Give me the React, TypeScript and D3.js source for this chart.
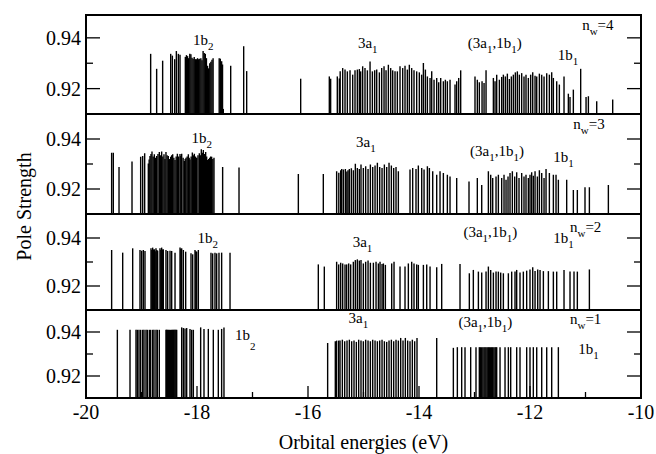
import React from 'react';
import * as d3 from 'd3';

// ---- data (energy in eV, pole strength) ----
const xMajorTicks = [-20, -18, -16, -14, -12, -10];
const xMinorTicks = [-19, -17, -15, -13, -11];
const yMajorTicks = [0.92, 0.94];
const yMinorTicks = [0.93];

const bandsNw4: [number, number][] = [
  [-18.835,0.9337],[-18.727,0.9278],[-18.619,0.9310],[-18.474,0.9337],[-18.444,0.9330],[-18.402,0.9316],[-18.372,0.9348],[-18.336,0.9337],[-18.306,0.9333],
  [-18.210,0.9325],[-18.190,0.9332],[-18.170,0.9328],[-18.150,0.9320],[-18.130,0.9337],[-18.110,0.9335],[-18.090,0.9322],[-18.070,0.9318],[-18.050,0.9325],[-18.030,0.9316],[-18.010,0.9316],[-17.990,0.9320],[-17.970,0.9316],[-17.950,0.9318],[-17.930,0.9320],[-17.910,0.9312],[-17.890,0.9348],[-17.870,0.9340],[-17.850,0.9337],[-17.830,0.9320],[-17.810,0.9290],[-17.790,0.9280],[-17.770,0.9300],[-17.750,0.9306],[-17.730,0.9314],[-17.710,0.9320],
  [-17.600,0.9320],[-17.580,0.9318],[-17.556,0.9308],[-17.540,0.9295],[-17.526,0.9120],[-17.393,0.9290],[-17.159,0.9367],[-17.105,0.9269],[-16.132,0.9239],
  [-15.616,0.9248],[-15.592,0.9239],[-15.472,0.9248],[-15.435,0.9240],
  [-15.420,0.9268],[-15.375,0.9281],[-15.333,0.9275],[-15.291,0.9268],[-15.243,0.9272],[-15.195,0.9255],[-15.153,0.9272],[-15.111,0.9275],[-15.075,0.9277],[-15.051,0.9268],[-15.015,0.9288],[-14.973,0.9281],[-14.930,0.9272],[-14.882,0.9307],[-14.840,0.9268],[-14.798,0.9272],[-14.762,0.9275],[-14.714,0.9264],[-14.672,0.9281],[-14.630,0.9288],[-14.594,0.9272],[-14.552,0.9294],[-14.510,0.9281],[-14.474,0.9272],[-14.432,0.9268],[-14.390,0.9268],[-14.342,0.9288],[-14.294,0.9281],[-14.252,0.9290],[-14.210,0.9275],[-14.174,0.9294],[-14.132,0.9281],[-14.090,0.9272],[-14.042,0.9268],[-13.994,0.9264],[-13.952,0.9255],
  [-13.921,0.9301],[-13.885,0.9275],[-13.849,0.9248],[-13.801,0.9242],[-13.771,0.9268],[-13.729,0.9235],[-13.681,0.9242],[-13.645,0.9225],[-13.609,0.9242],[-13.561,0.9229],[-13.525,0.9235],[-13.489,0.9229],[-13.441,0.9235],[-13.351,0.9216],[-13.321,0.9229],[-13.285,0.9242],[-13.249,0.9272],
  [-12.991,0.9248],[-12.949,0.9235],[-12.913,0.9225],[-12.864,0.9229],[-12.828,0.9222],[-12.792,0.9272],
  [-12.660,0.9242],[-12.630,0.9229],[-12.600,0.9255],[-12.552,0.9235],[-12.510,0.9246],[-12.480,0.9255],[-12.444,0.9248],[-12.408,0.9259],[-12.372,0.9238],[-12.336,0.9248],[-12.300,0.9255],[-12.264,0.9264],[-12.228,0.9268],[-12.192,0.9255],[-12.150,0.9261],[-12.108,0.9248],[-12.072,0.9255],[-12.030,0.9242],[-11.988,0.9255],[-11.951,0.9264],[-11.909,0.9251],[-11.879,0.9248],[-11.831,0.9259],[-11.789,0.9255],[-11.747,0.9248],[-11.699,0.9261],[-11.651,0.9255],[-11.609,0.9264],[-11.579,0.9242],
  [-11.519,0.9229],[-11.471,0.9216],[-11.387,0.9248],[-11.309,0.9180],[-11.279,0.9167],[-11.219,0.9196],[-11.087,0.9278],[-10.990,0.9167],[-10.948,0.9170],[-10.798,0.9150],[-10.510,0.9157],
];

const bandsNw3: [number, number][] = [
  [-19.538,0.9345],[-19.508,0.9345],[-19.405,0.9288],[-19.171,0.9310],[-19.015,0.9329],[-18.979,0.9332],[-18.943,0.9343],
  [-18.877,0.9302],[-18.862,0.9318],[-18.847,0.9332],[-18.829,0.9340],[-18.811,0.9350],[-18.790,0.9330],[-18.769,0.9339],[-18.748,0.9325],[-18.727,0.9332],[-18.703,0.9340],[-18.679,0.9348],[-18.658,0.9335],[-18.637,0.9350],[-18.616,0.9330],[-18.595,0.9339],[-18.577,0.9320],[-18.559,0.9348],[-18.538,0.9335],[-18.517,0.9332],[-18.495,0.9320],[-18.474,0.9329],[-18.456,0.9335],[-18.438,0.9339],[-18.417,0.9325],[-18.396,0.9316],[-18.375,0.9330],[-18.354,0.9341],[-18.330,0.9330],[-18.306,0.9340],[-18.291,0.9332],[-18.276,0.9341],[-18.250,0.9325],[-18.228,0.9312],[-18.213,0.9320],[-18.198,0.9325],[-18.177,0.9330],[-18.156,0.9339],[-18.141,0.9325],[-18.126,0.9318],[-18.105,0.9330],[-18.084,0.9346],[-18.066,0.9335],[-18.048,0.9341],[-18.027,0.9330],[-18.006,0.9325],[-17.982,0.9335],[-17.958,0.9343],[-17.940,0.9335],[-17.922,0.9359],[-17.904,0.9345],[-17.886,0.9356],[-17.865,0.9340],[-17.844,0.9348],[-17.826,0.9330],[-17.808,0.9316],[-17.790,0.9320],[-17.772,0.9325],[-17.754,0.9330],[-17.736,0.9329],[-17.715,0.9320],[-17.694,0.9325],
  [-17.538,0.9288],[-17.243,0.9286],[-16.174,0.9260],[-15.724,0.9260],
  [-15.484,0.9271],[-15.445,0.9265],[-15.411,0.9275],[-15.393,0.9280],[-15.363,0.9278],[-15.327,0.9280],[-15.300,0.9270],[-15.279,0.9275],[-15.255,0.9280],[-15.219,0.9283],[-15.183,0.9275],[-15.147,0.9301],[-15.111,0.9284],[-15.075,0.9280],
  [-15.045,0.9298],[-15.003,0.9284],[-14.961,0.9291],[-14.918,0.9280],[-14.876,0.9298],[-14.834,0.9288],[-14.792,0.9294],[-14.750,0.9305],[-14.708,0.9288],[-14.666,0.9284],[-14.624,0.9298],[-14.582,0.9288],[-14.540,0.9305],[-14.498,0.9294],[-14.456,0.9284],[-14.414,0.9288],[-14.372,0.9271],
  [-14.162,0.9278],[-14.114,0.9284],[-14.054,0.9280],[-14.012,0.9294],[-13.951,0.9284],[-13.909,0.9278],[-13.849,0.9291],[-13.813,0.9284],[-13.753,0.9271],[-13.681,0.9257],[-13.621,0.9271],[-13.561,0.9264],[-13.489,0.9257],[-13.441,0.9250],[-13.321,0.9244],
  [-13.099,0.9230],[-12.949,0.9244],[-12.870,0.9216],
  [-12.750,0.9271],[-12.708,0.9257],[-12.672,0.9244],[-12.612,0.9250],[-12.570,0.9257],[-12.510,0.9244],[-12.468,0.9257],[-12.432,0.9237],[-12.396,0.9250],[-12.360,0.9264],[-12.318,0.9271],[-12.276,0.9250],[-12.240,0.9267],[-12.198,0.9244],[-12.150,0.9264],[-12.108,0.9250],[-12.072,0.9257],[-12.030,0.9244],[-12.000,0.9257],[-11.970,0.9267],[-11.940,0.9253],[-11.909,0.9271],[-11.867,0.9250],[-11.831,0.9275],
  [-11.789,0.9264],[-11.747,0.9244],[-11.711,0.9280],[-11.651,0.9264],[-11.579,0.9257],[-11.531,0.9257],[-11.489,0.9237],
  [-11.339,0.9237],[-11.219,0.9196],[-11.147,0.9196],[-11.009,0.9207],[-10.930,0.9207],[-10.588,0.9216],
];

const bandsNw2: [number, number][] = [
  [-19.538,0.9350],[-19.339,0.9339],[-19.159,0.9357],
  [-19.027,0.9350],[-18.997,0.9347],[-18.967,0.9350],[-18.937,0.9346],
  [-18.829,0.9357],[-18.814,0.9350],[-18.799,0.9360],[-18.784,0.9352],[-18.769,0.9353],[-18.754,0.9345],[-18.739,0.9357],[-18.724,0.9350],[-18.709,0.9347],[-18.667,0.9357],[-18.652,0.9350],[-18.637,0.9360],[-18.622,0.9352],[-18.607,0.9353],[-18.559,0.9350],[-18.529,0.9346],[-18.486,0.9347],[-18.456,0.9346],[-18.396,0.9339],
  [-18.306,0.9360],[-18.291,0.9355],[-18.276,0.9357],[-18.246,0.9350],[-18.204,0.9343],
  [-18.108,0.9336],[-18.078,0.9332],[-18.036,0.9350],[-18.021,0.9345],[-18.006,0.9343],[-17.976,0.9350],
  [-17.748,0.9339],[-17.718,0.9336],[-17.676,0.9339],[-17.646,0.9336],[-17.604,0.9339],[-17.556,0.9339],
  [-17.405,0.9339],
  [-15.814,0.9290],[-15.706,0.9281],
  [-15.484,0.9301],[-15.447,0.9290],[-15.411,0.9297],[-15.375,0.9294],[-15.333,0.9290],[-15.303,0.9290],[-15.267,0.9294],[-15.231,0.9290],[-15.183,0.9301],[-15.147,0.9308],[-15.111,0.9311],[-15.075,0.9306],
  [-15.045,0.9308],[-15.003,0.9294],[-14.961,0.9301],[-14.918,0.9306],[-14.876,0.9297],[-14.822,0.9297],[-14.774,0.9301],[-14.732,0.9294],[-14.702,0.9301],[-14.666,0.9292],[-14.642,0.9294],[-14.606,0.9288],
  [-14.492,0.9294],[-14.450,0.9301],[-14.342,0.9281],[-14.252,0.9281],[-14.192,0.9294],[-14.132,0.9301],[-14.090,0.9294],[-14.042,0.9290],[-14.012,0.9288],[-13.921,0.9288],[-13.861,0.9290],[-13.801,0.9281],[-13.681,0.9278],[-13.591,0.9292],
  [-13.261,0.9292],[-13.093,0.9253],[-13.021,0.9267],[-12.930,0.9260],[-12.870,0.9256],
  [-12.792,0.9260],[-12.750,0.9281],[-12.708,0.9267],[-12.660,0.9256],[-12.612,0.9260],[-12.570,0.9260],[-12.528,0.9256],[-12.480,0.9253],
  [-12.390,0.9253],[-12.330,0.9260],[-12.270,0.9260],[-12.240,0.9267],[-12.180,0.9256],[-12.120,0.9260],[-12.060,0.9264],[-12.000,0.9269],[-11.951,0.9278],[-11.909,0.9262],[-11.861,0.9269],[-11.819,0.9267],[-11.759,0.9262],[-11.669,0.9262],[-11.579,0.9260],[-11.519,0.9260],
  [-11.387,0.9267],[-11.279,0.9260],[-11.207,0.9260],[-11.147,0.9260],[-10.930,0.9269],
];

const bandsNw1: [number, number][] = [
  [-19.435,0.9410],[-19.207,0.9410],[-19.099,0.9410],[-19.075,0.9410],[-19.045,0.9410],[-19.015,0.9410],[-18.979,0.9410],[-18.955,0.9410],[-18.919,0.9410],[-18.895,0.9410],[-18.859,0.9410],[-18.835,0.9410],[-18.799,0.9410],[-18.775,0.9410],[-18.739,0.9410],[-18.715,0.9410],[-18.679,0.9410],
  [-18.559,0.9410],[-18.547,0.9410],[-18.535,0.9410],[-18.517,0.9410],[-18.498,0.9410],[-18.477,0.9410],[-18.456,0.9410],[-18.441,0.9410],[-18.426,0.9410],[-18.411,0.9410],[-18.396,0.9410],[-18.381,0.9410],[-18.366,0.9410],
  [-18.276,0.9421],[-18.246,0.9418],[-18.216,0.9416],[-18.186,0.9418],[-18.126,0.9414],[-18.096,0.9410],[-18.066,0.9410],
  [-17.934,0.9421],[-17.874,0.9414],[-17.796,0.9414],[-17.706,0.9410],[-17.616,0.9410],[-17.556,0.9414],[-17.514,0.9421],
  [-15.646,0.9350],[-15.508,0.9358],[-15.484,0.9361],[-15.447,0.9361],
  [-15.423,0.9361],[-15.381,0.9365],[-15.339,0.9358],[-15.297,0.9361],[-15.255,0.9365],[-15.213,0.9358],[-15.171,0.9361],[-15.129,0.9355],[-15.087,0.9365],[-15.045,0.9361],[-15.003,0.9358],[-14.961,0.9365],[-14.918,0.9361],[-14.876,0.9358],[-14.834,0.9365],[-14.792,0.9361],[-14.750,0.9358],[-14.708,0.9361],[-14.666,0.9365],[-14.624,0.9358],[-14.582,0.9355],[-14.540,0.9361],[-14.498,0.9365],[-14.456,0.9358],[-14.414,0.9365],[-14.372,0.9361],[-14.330,0.9373],[-14.288,0.9361],[-14.246,0.9373],[-14.204,0.9361],[-14.162,0.9358],[-14.120,0.9365],[-14.078,0.9358],[-14.036,0.9373],
  [-13.681,0.9373],
  [-13.381,0.9328],[-13.309,0.9331],[-13.231,0.9331],[-13.171,0.9331],[-13.069,0.9331],[-12.973,0.9331],
  [-12.913,0.9331],[-12.892,0.9331],[-12.870,0.9331],[-12.849,0.9331],[-12.828,0.9331],[-12.810,0.9331],[-12.792,0.9331],[-12.771,0.9331],[-12.750,0.9331],[-12.729,0.9331],[-12.708,0.9331],[-12.690,0.9331],[-12.672,0.9331],[-12.651,0.9331],[-12.630,0.9331],[-12.615,0.9331],[-12.600,0.9331],
  [-12.540,0.9331],[-12.450,0.9331],[-12.390,0.9331],[-12.348,0.9331],[-12.240,0.9331],[-12.180,0.9331],[-12.060,0.9331],[-12.000,0.9331],[-11.940,0.9331],[-11.879,0.9331],[-11.789,0.9331],[-11.699,0.9331],[-11.609,0.9331],[-11.489,0.9331],
];

// annotation text: [main, subscript] pieces, anchored at (energy, strength)
type Seg = [string, string];
type Note = { e: number; v: number; segs: Seg[]; subDy?: number };

const notesNw4: Note[] = [
  { e: -18.07, v: 0.9373, segs: [['1b', '2']] },
  { e: -15.10, v: 0.9361, segs: [['3a', '1']] },
  { e: -13.12, v: 0.9361, segs: [['(3a', '1'], [',1b', '1'], [')', '']] },
  { e: -11.50, v: 0.9314, segs: [['1b', '1']] },
  { e: -11.06, v: 0.9431, segs: [['n', 'w'], ['=4', '']] },
];
const notesNw3: Note[] = [
  { e: -18.10, v: 0.9384, segs: [['1b', '2']] },
  { e: -15.135, v: 0.9370, segs: [['3a', '1']] },
  { e: -13.08, v: 0.9332, segs: [['(3a', '1'], [',1b', '1'], [')', '']] },
  { e: -11.58, v: 0.9307, segs: [['1b', '1']] },
  { e: -11.22, v: 0.9440, segs: [['n', 'w'], ['=3', '']] },
];
const notesNw2: Note[] = [
  { e: -17.99, v: 0.9378, segs: [['1b', '2']] },
  { e: -15.195, v: 0.9361, segs: [['3a', '1']] },
  { e: -13.20, v: 0.9403, segs: [['(3a', '1'], [',1b', '1'], [')', '']] },
  { e: -11.58, v: 0.9378, segs: [['1b', '1']] },
  { e: -11.28, v: 0.9426, segs: [['n', 'w'], ['=2', '']] },
];
const notesNw1: Note[] = [
  { e: -17.315, v: 0.9365, segs: [['1b', '2']], subDy: 10 },
  { e: -15.27, v: 0.9440, segs: [['3a', '1']] },
  { e: -13.29, v: 0.9421, segs: [['(3a', '1'], [',1b', '1'], [')', '']] },
  { e: -11.13, v: 0.9301, segs: [['1b', '1']] },
  { e: -11.28, v: 0.9436, segs: [['n', 'w'], ['=1', '']] },
];

// ---- layout ----
const W = 656;
const H = 454;
const left = 86;
const right = 641;
const panelEdges = [15, 114, 214, 310, 398];
const panelTopValue = [0.949, 0.95, 0.95, 0.95];
const font = '"Liberation Serif", "Times New Roman", serif';

const panels = [
  { bars: bandsNw4, notes: notesNw4 },
  { bars: bandsNw3, notes: notesNw3 },
  { bars: bandsNw2, notes: notesNw2 },
  { bars: bandsNw1, notes: notesNw1 },
];

const x = d3.scaleLinear().domain([-20, -10]).range([left, right]);
const fmt = d3.format('.2f');

function NoteText({ note, y }: { note: Note; y: d3.ScaleLinear<number, number> }) {
  const subDy = note.subDy ?? 5;
  const spans: React.ReactNode[] = [];
  let shifted = false;
  note.segs.forEach(([main, sub], i) => {
    spans.push(
      <tspan key={`m${i}`} dy={shifted ? -subDy : 0}>{main}</tspan>
    );
    shifted = false;
    if (sub) {
      spans.push(
        <tspan key={`s${i}`} dy={subDy} fontSize={11}>{sub}</tspan>
      );
      shifted = true;
    }
  });
  return (
    <text x={x(note.e)} y={y(note.v)} fontSize={15} fontFamily={font}>
      {spans}
    </text>
  );
}

export default function App() {
  return (
    <svg width={W} height={H} style={{ display: 'block', position: 'absolute', left: 0, top: 0 }}>
      <rect width={W} height={H} fill="#fff" />
      {panels.map((p, i) => {
        const top = panelEdges[i];
        const bottom = panelEdges[i + 1];
        const y = d3.scaleLinear().domain([0.91, panelTopValue[i]]).range([bottom, top]);
        return (
          <g key={i}>
            {p.bars.map(([e, v], j) => (
              <line key={j} x1={x(e)} x2={x(e)} y1={y(0.91)} y2={y(v)} stroke="#000" strokeWidth={1.4} />
            ))}
            {yMajorTicks.map((t) => (
              <g key={`ym${t}`}>
                <line x1={left} x2={left + 14} y1={y(t)} y2={y(t)} stroke="#000" strokeWidth={1.3} />
                <line x1={right - 14} x2={right} y1={y(t)} y2={y(t)} stroke="#000" strokeWidth={1.3} />
                <text x={left - 5} y={y(t)} dy="0.35em" textAnchor="end" fontSize={20} fontFamily={font}>
                  {fmt(t)}
                </text>
              </g>
            ))}
            {yMinorTicks.map((t) => (
              <g key={`yn${t}`}>
                <line x1={left} x2={left + 7} y1={y(t)} y2={y(t)} stroke="#000" strokeWidth={1.3} />
                <line x1={right - 7} x2={right} y1={y(t)} y2={y(t)} stroke="#000" strokeWidth={1.3} />
              </g>
            ))}
            {p.notes.map((n, k) => (
              <NoteText key={k} note={n} y={y} />
            ))}
            <rect x={left} y={top} width={right - left} height={bottom - top} fill="none" stroke="#000" strokeWidth={2} />
          </g>
        );
      })}
      {/* bottom energy axis */}
      {xMajorTicks.map((t) => (
        <g key={`xm${t}`}>
          <line x1={x(t)} x2={x(t)} y1={panelEdges[4]} y2={panelEdges[4] - 12} stroke="#000" strokeWidth={1.3} />
          <text x={x(t)} y={panelEdges[4] + 21} textAnchor="middle" fontSize={20} fontFamily={font}>
            {t}
          </text>
        </g>
      ))}
      {xMinorTicks.map((t) => (
        <line key={`xn${t}`} x1={x(t)} x2={x(t)} y1={panelEdges[4]} y2={panelEdges[4] - 6} stroke="#000" strokeWidth={1.3} />
      ))}
      <text x={(left + right) / 2} y={449} textAnchor="middle" fontSize={20} fontFamily={font}>
        Orbital energies (eV)
      </text>
      <text
        transform={`translate(31,${(panelEdges[0] + panelEdges[4]) / 2}) rotate(-90)`}
        textAnchor="middle"
        fontSize={20}
        fontFamily={font}
      >
        Pole Strength
      </text>
    </svg>
  );
}
